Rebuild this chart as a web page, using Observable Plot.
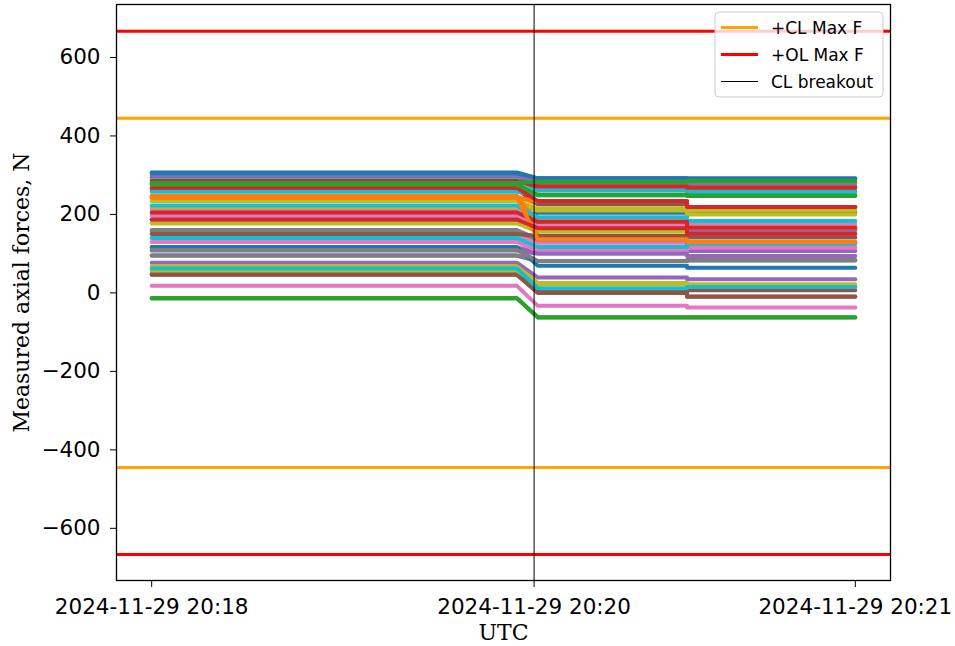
<!DOCTYPE html>
<html><head><meta charset="utf-8">
<script src="https://cdn.jsdelivr.net/npm/d3@7"></script>
<script src="https://cdn.jsdelivr.net/npm/@observablehq/plot@0.6"></script>
<style>
body{margin:0;background:#fff}
#chart{position:relative;width:955px;height:646px}
</style>
</head><body><div id="chart"></div>
<script>
// ---- data ----
const tStart = "2024-11-29T20:18:20Z";
const tDropStart = "2024-11-29T20:19:55.5Z";
const tBreakout = "2024-11-29T20:20:00Z";
const tDropEnd = "2024-11-29T20:20:01Z";
const tStep = "2024-11-29T20:20:40Z";
const tEnd = "2024-11-29T20:21:24Z";

const clMaxF = 445;   // +CL Max F
const olMaxF = 667;   // +OL Max F

const yTickValues = [-600, -400, -200, 0, 200, 400, 600];
const xTickTimes = [tStart, tBreakout, tEnd];

// force levels per actuator: before breakout, after breakout, after the later step
const forceBefore = [
  307, 246, 277, 293, 299, 264, 213, 281, 234, 289,
  187, 242, -14, 285, 77, 48, 197, 160, 218, 258,
  305, 247, 280, 268, 178, 46, 151, 158, 177, 223,
  95, 246, -13, 205, 116, 150, 130, 95, 68, 140,
  117, 244, 276, 187, 108, 47, 18, 109, 57, 62
];
const forceAfter = [
  292, 226, 249, 271, 281, 226, 192, 281, 215, 261,
  204, 234, -63, 271, 39, 1, 175, 137, 210, 249,
  292, 181, 283, 234, 165, 0, 128, 136, 156, 192,
  81, 145, -62, 181, 103, 145, 107, 81, 25, 117,
  69, 137, 250, 165, 100, 2, -33, 81, 22, 12
];
const forceFinal = [
  292, 219, 247, 268, 273, 205, 176, 280, 210, 260,
  160, 219, -63, 268, 35, 7, 170, 130, 200, 255,
  290, 166, 285, 219, 160, -10, 117, 128, 166, 183,
  83, 150, -62, 166, 107, 141, 115, 83, 22, 125,
  64, 130, 248, 151, 94, -9, -37, 83, 15, 15
];

const tab10 = ["#1f77b4","#ff7f0e","#2ca02c","#d62728","#9467bd","#8c564b","#e377c2","#7f7f7f","#bcbd22","#17becf"];

// ---- build table ----
const ids = forceBefore.map((_, i) => "F" + String(i + 1).padStart(2, "0"));
const rows = [];
ids.forEach((id, i) => {
  const pts = [
    [tStart, forceBefore[i]], [tDropStart, forceBefore[i]],
    [tDropEnd, forceAfter[i]], [tStep, forceAfter[i]],
    [tStep, forceFinal[i]], [tEnd, forceFinal[i]]
  ];
  pts.forEach(([t, v]) => rows.push({id, t: new Date(t), v}));
});

const x0 = new Date(tStart), x1 = new Date(tEnd);
const pad = (x1 - x0) * 0.05;
const fmtMinus = d => d < 0 ? "\u2212" + (-d) : String(d);

const chart = Plot.plot({
  width: 955, height: 646,
  marginLeft: 116, marginRight: 65, marginTop: 4, marginBottom: 66,
  style: {fontFamily: "'DejaVu Sans', sans-serif", fontSize: "21px", color: "black", background: "white"},
  x: {type: "utc", domain: [new Date(+x0 - pad), new Date(+x1 + pad)]},
  y: {domain: [-733, 735]},
  color: {domain: ids, range: ids.map((_, i) => tab10[i % 10])},
  marks: [
    Plot.line(rows, {x: "t", y: "v", z: "id", stroke: "id", strokeWidth: 4}),
    Plot.ruleY([clMaxF, -clMaxF], {stroke: "#ffa500", strokeWidth: 3}),
    Plot.ruleY([olMaxF, -olMaxF], {stroke: "#ff0000", strokeWidth: 3}),
    Plot.ruleX([new Date(tBreakout)], {stroke: "black", strokeWidth: 1}),
    Plot.frame({stroke: "black", strokeWidth: 1.3}),
    Plot.axisX(xTickTimes.map(t => new Date(t)), {tickFormat: d3.utcFormat("%Y-%m-%d %H:%M"), tickSize: 7, tickPadding: 11, label: null, fontSize: 21.5}),
    Plot.axisY(yTickValues, {tickFormat: fmtMinus, tickSize: 6, tickPadding: 10, label: null, fontSize: 21.5}),
    Plot.text(["UTC"], {frameAnchor: "bottom", dy: 59, textAnchor: "middle", fontFamily: "'DejaVu Serif', serif", fontSize: 22}),
    Plot.text(["Measured axial forces, N"], {frameAnchor: "left", dx: -95, rotate: -90, textAnchor: "middle", fontFamily: "'DejaVu Serif', serif", fontSize: 22})
  ]
});
document.getElementById("chart").appendChild(chart);

// ---- legend (inside plot, upper right) ----
const legendItems = [
  {label: "+CL Max F", color: "#ffa500", w: 3},
  {label: "+OL Max F", color: "#ff0000", w: 3},
  {label: "CL breakout", color: "black", w: 1}
];
const svg = d3.select(chart);
const lg = svg.append("g").attr("transform", "translate(715,12)");
lg.append("rect").attr("width", 168).attr("height", 85).attr("rx", 4)
  .attr("fill", "white").attr("fill-opacity", 0.8).attr("stroke", "#cccccc").attr("stroke-width", 1);
legendItems.forEach((d, i) => {
  const y = 15.5 + i * 27;
  lg.append("line").attr("x1", 6).attr("x2", 43).attr("y1", y).attr("y2", y)
    .attr("stroke", d.color).attr("stroke-width", d.w);
  lg.append("text").attr("x", 56).attr("y", y).attr("dy", "0.36em")
    .attr("text-anchor", "start")
    .attr("font-family", "'DejaVu Sans', sans-serif").attr("font-size", 17)
    .attr("fill", "black").text(d.label);
});
</script>
</body></html>
